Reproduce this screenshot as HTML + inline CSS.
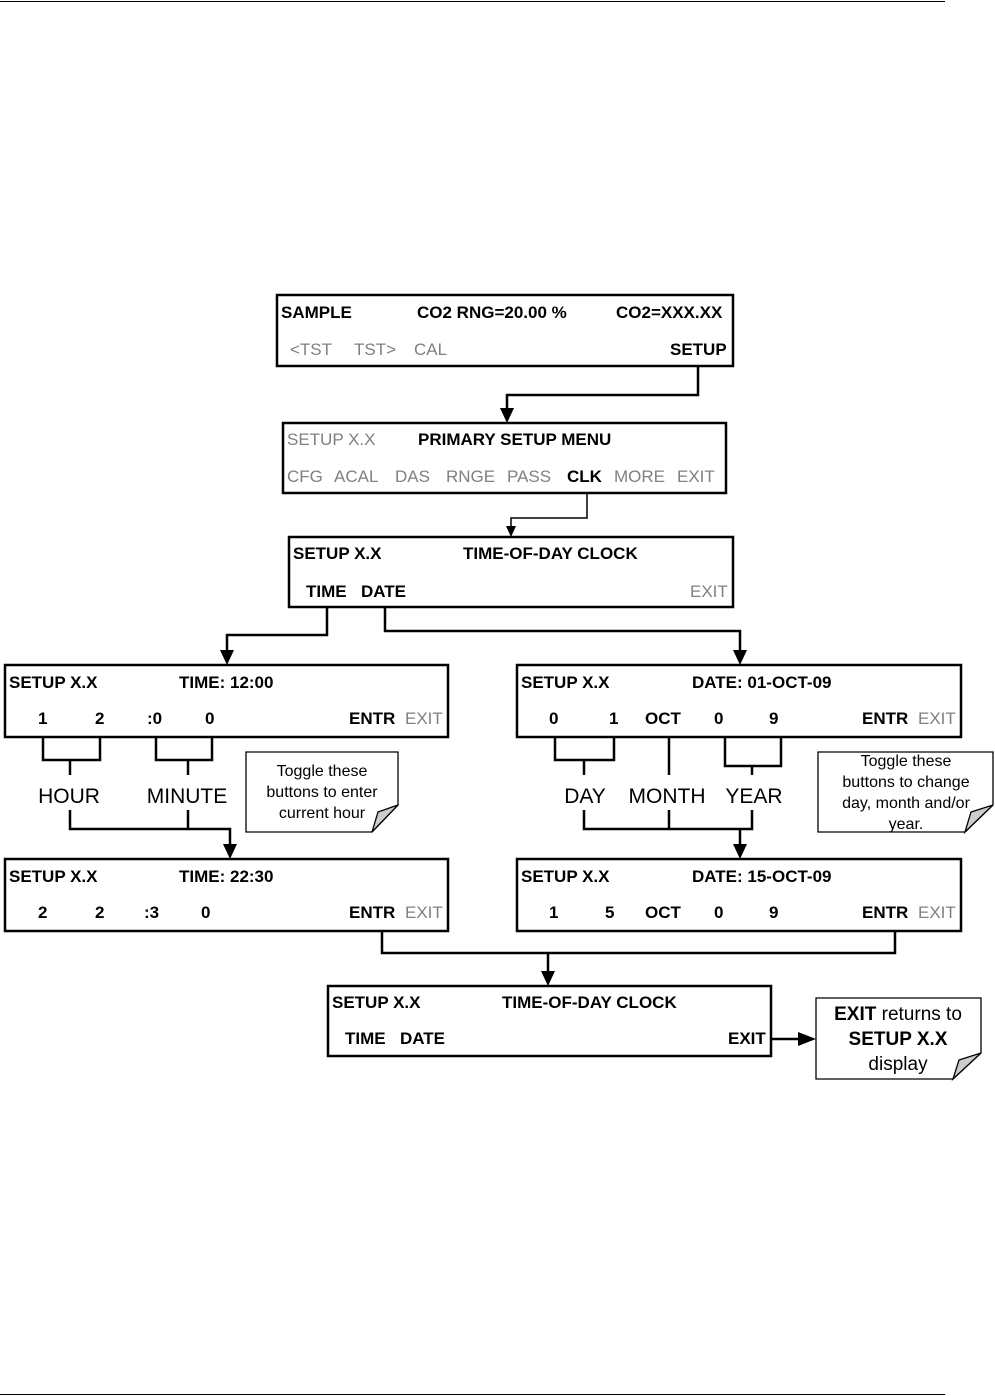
<!DOCTYPE html>
<html><head><meta charset="utf-8"><style>html,body{margin:0;padding:0;background:#fff}svg{display:block}</style></head><body>
<svg width="995" height="1396" viewBox="0 0 995 1396" xmlns="http://www.w3.org/2000/svg" font-family="Liberation Sans, Arial, sans-serif">
<line x1="0" y1="1.5" x2="945" y2="1.5" stroke="#000" stroke-width="1"/>
<line x1="0" y1="1394.5" x2="945" y2="1394.5" stroke="#000" stroke-width="1"/>
<g fill="none" stroke="#000" stroke-width="2.5">
<rect x="277" y="295" width="456" height="71"/>
<rect x="283" y="423" width="443" height="70"/>
<rect x="289" y="537" width="444" height="70"/>
<rect x="5" y="665" width="443" height="72"/>
<rect x="517" y="665" width="444" height="72"/>
<rect x="5" y="859" width="443" height="72"/>
<rect x="517" y="859" width="444" height="72"/>
<rect x="328" y="986" width="443" height="70"/>
</g>
<g fill="none" stroke="#000" stroke-width="1.3">
<path d="M246 752 H398 V805 L372 832 H246 Z"/>
<path d="M398 805 L372 832 L378 812 Z" fill="#ccc"/>
<path d="M818 752 H993 V805 L965 832 H818 Z"/>
<path d="M993 805 L965 832 L971 812 Z" fill="#ccc"/>
<path d="M816 998 H981 V1053 L953 1079 H816 Z"/>
<path d="M981 1053 L953 1079 L959 1060 Z" fill="#ccc"/>
</g>
<g fill="none" stroke="#000" stroke-width="2.5">
<path d="M698 366 V395 H507 V410"/>
<path d="M327 607 V635 H227 V652"/>
<path d="M385 607 V631 H740 V652"/>
<path d="M43 737 V760 H100 V737 M70 760 V775"/>
<path d="M156 737 V760 H212 V737 M188 760 V775"/>
<path d="M70 810 V829 H230 V846 M188 810 V829"/>
<path d="M555 737 V760 H614 V737 M584 760 V775"/>
<path d="M669 737 V775"/>
<path d="M725 737 V766 H781 V737 M752 766 V775"/>
<path d="M584 810 V829 H752 V810 M669 810 V829 M740 829 V846"/>
<path d="M382 931 V953 H895 V931 M548 953 V973"/>
<path d="M771 1039 H800"/>
</g>
<path d="M587 493 V518 H511 V527" fill="none" stroke="#000" stroke-width="1.5"/>
<g fill="#000">
<path d="M500 408 H514 L507 423 Z"/>
<path d="M506 526 H516 L511 537 Z"/>
<path d="M220 650 H234 L227 665 Z"/>
<path d="M733 650 H747 L740 665 Z"/>
<path d="M223 844 H237 L230 859 Z"/>
<path d="M733 844 H747 L740 859 Z"/>
<path d="M541 971 H555 L548 986 Z"/>
<path d="M798 1032 L816 1039 L798 1046 Z"/>
</g>
<g font-size="17" font-weight="bold" fill="#000">
<text x="281" y="318">SAMPLE</text><text x="417" y="318">CO2 RNG=20.00 %</text><text x="616" y="318">CO2=XXX.XX</text>
<text x="670" y="355">SETUP</text>
<text x="418" y="445">PRIMARY SETUP MENU</text><text x="567" y="482">CLK</text>
<text x="293" y="559">SETUP X.X</text><text x="463" y="559">TIME-OF-DAY CLOCK</text>
<text x="306" y="597">TIME</text><text x="361" y="597">DATE</text>
<text x="9" y="688">SETUP X.X</text><text x="179" y="688">TIME: 12:00</text>
<text x="38" y="724">1</text><text x="95" y="724">2</text><text x="147" y="724">:0</text><text x="205" y="724">0</text><text x="349" y="724">ENTR</text>
<text x="521" y="688">SETUP X.X</text><text x="692" y="688">DATE: 01-OCT-09</text>
<text x="549" y="724">0</text><text x="609" y="724">1</text><text x="645" y="724">OCT</text><text x="714" y="724">0</text><text x="769" y="724">9</text><text x="862" y="724">ENTR</text>
<text x="9" y="882">SETUP X.X</text><text x="179" y="882">TIME: 22:30</text>
<text x="38" y="918">2</text><text x="95" y="918">2</text><text x="144" y="918">:3</text><text x="201" y="918">0</text><text x="349" y="918">ENTR</text>
<text x="521" y="882">SETUP X.X</text><text x="692" y="882">DATE: 15-OCT-09</text>
<text x="549" y="918">1</text><text x="605" y="918">5</text><text x="645" y="918">OCT</text><text x="714" y="918">0</text><text x="769" y="918">9</text><text x="862" y="918">ENTR</text>
<text x="332" y="1008">SETUP X.X</text><text x="502" y="1008">TIME-OF-DAY CLOCK</text>
<text x="345" y="1044">TIME</text><text x="400" y="1044">DATE</text><text x="728" y="1044">EXIT</text>
</g>
<g font-size="17" fill="#808080">
<text x="290" y="355">&lt;TST</text><text x="354" y="355">TST&gt;</text><text x="414" y="355">CAL</text>
<text x="287" y="445">SETUP X.X</text>
<text x="287" y="482">CFG</text><text x="334" y="482">ACAL</text><text x="395" y="482">DAS</text><text x="446" y="482">RNGE</text><text x="507" y="482">PASS</text><text x="614" y="482">MORE</text><text x="677" y="482">EXIT</text>
<text x="690" y="597">EXIT</text>
<text x="405" y="724">EXIT</text><text x="918" y="724">EXIT</text><text x="405" y="918">EXIT</text><text x="918" y="918">EXIT</text>
</g>
<g font-size="21" fill="#000" text-anchor="middle">
<text x="69" y="803">HOUR</text><text x="187" y="803">MINUTE</text>
<text x="585" y="803">DAY</text><text x="667" y="803">MONTH</text><text x="754" y="803">YEAR</text>
</g>
<g font-size="16" fill="#000" text-anchor="middle">
<text x="322" y="776">Toggle these</text><text x="322" y="797">buttons to enter</text><text x="322" y="818">current hour</text>
<text x="906" y="766">Toggle these</text><text x="906" y="787">buttons to change</text><text x="906" y="808">day, month and/or</text><text x="906" y="829">year.</text>
</g>
<g font-size="19" fill="#000" text-anchor="middle">
<text x="898" y="1020"><tspan font-weight="bold">EXIT</tspan> returns to</text>
<text x="898" y="1045" font-weight="bold">SETUP X.X</text>
<text x="898" y="1070">display</text>
</g>
</svg>
</body></html>
